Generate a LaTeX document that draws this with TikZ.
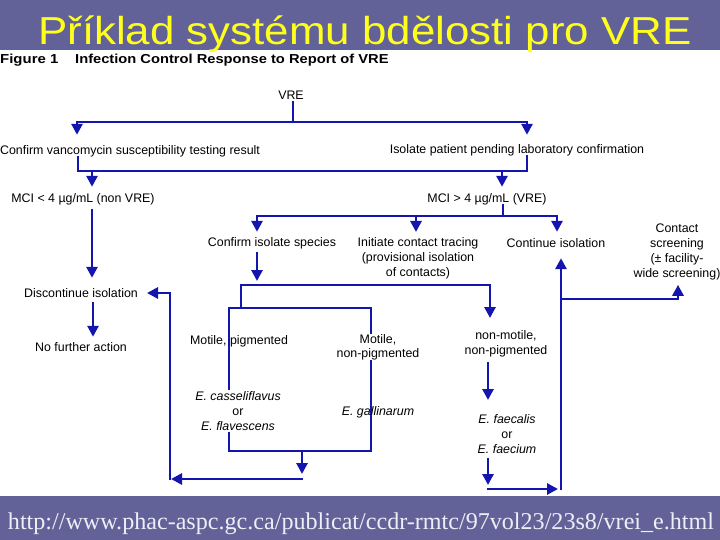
\documentclass[tikz,border=0pt]{standalone}
\usepackage{fontspec}
\setmainfont{Liberation Sans}
\newfontfamily\urlfont{Liberation Serif}
\usepackage{graphicx}
\usetikzlibrary{arrows.meta}
\definecolor{fc}{RGB}{20,20,175}
\definecolor{band}{RGB}{98,98,152}
\definecolor{ttl}{RGB}{255,255,30}
\definecolor{urlc}{RGB}{238,238,246}
\pgfdeclarelayer{bg}
\pgfsetlayers{bg,main}
\newcommand\lblfont{\fontsize{12.4}{15}\selectfont}
\tikzset{
  ln/.style={draw=fc, line width=2.8pt, line cap=rect},
  arr/.style={ln, -{Triangle[length=11pt,width=11pt]}},
  lbl/.style={inner sep=0pt, font=\lblfont, text height=9pt, text depth=2.5pt, anchor=base},
  mlbl/.style={inner sep=0pt, font=\lblfont, align=center, anchor=north},
}
\begin{document}
\begin{tikzpicture}[x=1pt,y=-1pt]
\useasboundingbox (0,0) rectangle (720,540);
% texts
\node[anchor=base, text=ttl, font=\fontsize{39}{40}\selectfont, inner sep=0pt] (title) at (365,45) {\scalebox{1.125}[1]{Příklad systému bdělosti pro VRE}};
\node[anchor=base west, inner sep=0pt, font=\fontsize{13}{15}\selectfont\bfseries] (fig) at (0,64) {\scalebox{1.15}[1]{Figure 1}};
\node[anchor=base west, inner sep=0pt, font=\fontsize{13}{15}\selectfont\bfseries] (cap) at (75,64) {\scalebox{1.13}[1]{Infection Control Response to Report of VRE}};
\node[anchor=base, text=urlc, font=\urlfont\fontsize{24.1}{26}\selectfont, inner sep=0pt] (url) at (361,529) {http://www.phac-aspc.gc.ca/publicat/ccdr-rmtc/97vol23/23s8/vrei\_e.html};

\node[lbl] (vre) at (291,99.5) {VRE};
\node[lbl] (cv) at (130,154.5) {Confirm vancomycin susceptibility testing result};
\node[lbl] (ip) at (517,153.5) {Isolate patient pending laboratory confirmation};
\node[lbl] (mlt) at (83,202.5) {MCI < 4 µg/mL (non VRE)};
\node[lbl] (mgt) at (487,202.5) {MCI > 4 µg/mL (VRE)};
\node[lbl] (cis) at (272,246.5) {Confirm isolate species};
\node[mlbl] (ict) at (418,237.2) {Initiate contact tracing\\(provisional isolation\\of contacts)};
\node[lbl] (ci) at (556,247.5) {Continue isolation};
\node[mlbl] (cs) at (677,223.2) {Contact\\screening\\(± facility-\\wide screening)};
\node[lbl] (di) at (81,297.5) {Discontinue isolation};
\node[lbl] (nfa) at (81,351.5) {No further action};
\node[lbl] (mp) at (239,344.5) {Motile, pigmented};
\node[mlbl, fill=white, inner sep=1pt] (ec) at (238,390.2) {\textit{E. casseliflavus}\\or\\\textit{E. flavescens}};
\node[mlbl, fill=white, font=\fontsize{12.4}{14}\selectfont] (mnp) at (378,334.2) {Motile,\\non-pigmented};
\node[lbl] (eg) at (378,415.5) {\textit{E. gallinarum}};
\node[mlbl] (nmnp) at (506,330.2) {non-motile,\\non-pigmented};
\node[mlbl] (ef) at (507,414.2) {\textit{E. faecalis}\\or\\\textit{E. faecium}};

\begin{pgfonlayer}{bg}
\fill[band] (0,0) rectangle (720,50);
\fill[band] (0,496) rectangle (720,540);

\coordinate (c1) at (293,122);
\coordinate (c1L) at (77,122);
\coordinate (c1R) at (527,122);
\draw[ln] (vre.south -| c1) -- (c1);
\draw[ln] (c1L) -- (c1R);
\draw[arr, shorten >=10.5pt] (c1L) -- (c1L |- cv.north);
\draw[arr, shorten >=9.5pt] (c1R) -- (c1R |- ip.north);

\coordinate (c2L) at (78,171);
\coordinate (c2R) at (527,171);
\draw[ln] (cv.south -| c2L) -- (c2L) -- (c2R) -- (ip.south -| c2R);
\coordinate (c3a) at (92,171);
\coordinate (c3b) at (502,171);
\draw[arr, shorten >=6.5pt] (c3a) -- (c3a |- mlt.north);
\draw[arr, shorten >=6.5pt] (c3b) -- (c3b |- mgt.north);
\draw[arr, shorten <=5pt, shorten >=10.5pt] (mlt.south -| c3a) -- (c3a |- di.north);
\coordinate (c6) at (93,320);
\draw[arr, shorten <=3pt, shorten >=5.5pt] (di.south -| c6) -- (c6 |- nfa.north);

\coordinate (c4) at (503,216);
\coordinate (c4L) at (257,216);
\coordinate (c4M) at (416,216);
\coordinate (c4R) at (557,216);
\draw[ln] (mgt.south -| c4) -- (c4);
\draw[ln] (c4L) -- (c4R);
\draw[arr, shorten >=5.5pt] (c4L) -- (c4L |- cis.north);
\draw[arr, shorten >=5.2pt] (c4M) -- (c4M |- ict.north);
\draw[arr, shorten >=6.5pt] (c4R) -- (c4R |- ci.north);

\coordinate (c5) at (257,285);
\coordinate (c5L) at (241,285);
\coordinate (c5R) at (490,285);
\draw[arr, shorten <=4pt, shorten >=4pt] (cis.south -| c5) -- (c5);
\draw[ln] (c5L) -- (c5R);
\draw[arr, shorten >=12.2pt] (c5R) -- (c5R |- nmnp.north);
\coordinate (rT) at (241,308);
\draw[ln] (c5L) -- (rT);
\coordinate (rTL) at (229,308);
\coordinate (rBR) at (371,451);
\draw[ln] (rTL) rectangle (rBR);
\coordinate (rB) at (302,451);
\coordinate (c7) at (302,479);
\coordinate (c8) at (170,479);
\coordinate (c9) at (170,293);
\coordinate (dtip) at (147,293);
\draw[arr, shorten >=5pt] (rB) -- (c7);
\draw[arr, shorten >=1pt] (c7) -- (c8);
\draw[arr] (c8) -- (c9) -- (dtip);

\coordinate (c10) at (488,380);
\draw[arr, shorten <=6pt, shorten >=14.2pt] (nmnp.south -| c10) -- (c10 |- ef.north);
\coordinate (c12) at (488,489);
\coordinate (c13) at (561,489);
\draw[arr, shorten <=6pt, shorten >=4pt] (ef.south -| c10) -- (c12);
\draw[arr, shorten >=3pt] (c12) -- (c13);
\draw[arr, shorten >=8pt] (c13) -- (c13 |- ci.south);
\coordinate (c14) at (561,299);
\coordinate (c15) at (678,299);
\draw[arr, shorten >=5pt] (c14) -- (c15) -- (c15 |- cs.south);
\end{pgfonlayer}
\end{tikzpicture}
\end{document}
